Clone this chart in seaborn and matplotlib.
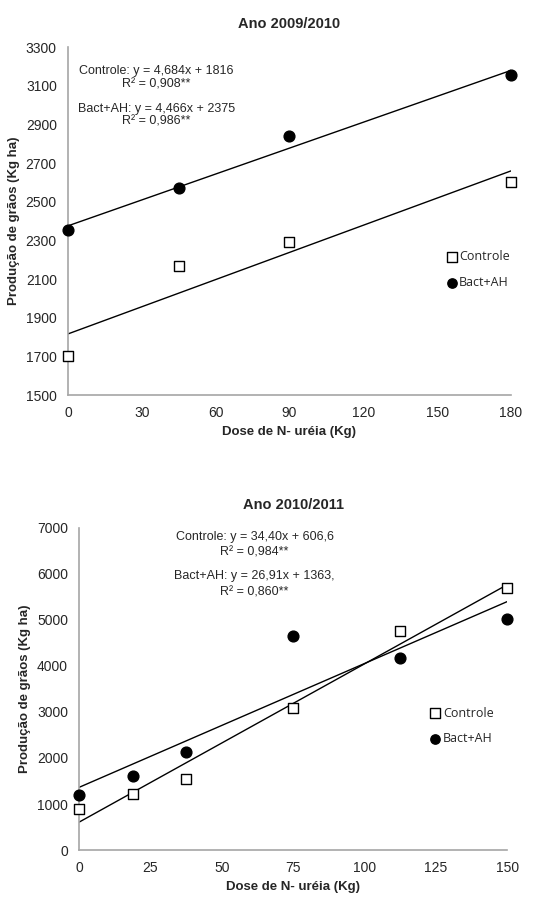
import seaborn as sns
import matplotlib.pyplot as plt
import numpy as np
import pandas as pd

# Ano 2009/2010
dose_09 = [0, 45, 90, 180]
controle_09 = [1700, 2165, 2290, 2600]
bact_09 = [2355, 2570, 2840, 3155]
fit_09 = {"Controle": (4.684, 1816), "Bact+AH": (4.466, 2375)}

# Ano 2010/2011
dose_10 = [0, 18.75, 37.5, 75, 112.5, 150]
controle_10 = [900, 1220, 1550, 3080, 4770, 5700]
bact_10 = [1200, 1600, 2130, 4650, 4170, 5020]
fit_10 = {"Controle": (34.40, 606.6), "Bact+AH": (26.91, 1363)}

sns.set_theme(style="white")
plt.rcParams['font.family'] = ['Liberation Sans', 'DejaVu Sans']

fig = plt.figure(figsize=(5.35, 8.99), dpi=100)
ax1 = fig.add_axes([0.127, 0.5606, 0.828, 0.3871])
ax2 = fig.add_axes([0.148, 0.0545, 0.800, 0.3582])


def panel(ax, dose, ctrl, bact, fit, title, yticks, xticks, texts, legend_anchor):
    df = pd.DataFrame({
        "dose": dose * 2,
        "prod": ctrl + bact,
        "grupo": ["Controle"] * len(dose) + ["Bact+AH"] * len(dose),
    })
    for grupo, marker, face in [("Controle", "s", "white"), ("Bact+AH", "o", "black")]:
        sub = df[df["grupo"] == grupo]
        sns.scatterplot(data=sub, x="dose", y="prod", ax=ax, marker=marker,
                        color=face, edgecolor="black", linewidth=1.0, s=60,
                        label=grupo, zorder=3, clip_on=False)
        # linha de tendencia a partir da equacao
        a, b = fit[grupo]
        xs = np.array([min(dose), max(dose)])
        sns.lineplot(x=xs, y=a * xs + b, ax=ax, color="black", linewidth=1.0,
                     zorder=2)
    ax.set_xlim(xticks[0], xticks[-1])
    ax.set_ylim(yticks[0], yticks[-1])
    ax.set_xticks(xticks)
    ax.set_yticks(yticks)
    ax.tick_params(length=0, labelsize=10, pad=8)
    for s in ["top", "right"]:
        ax.spines[s].set_visible(False)
    for s in ["left", "bottom"]:
        ax.spines[s].set_color("#a6a6a6")
        ax.spines[s].set_linewidth(1.2)
    ax.set_title(title, fontsize=10.5, fontweight="bold", pad=14)
    ax.set_xlabel("Dose de N- uréia (Kg)", fontsize=9.5, fontweight="bold")
    ax.set_ylabel("Produção de grãos (Kg ha)", fontsize=9.5, fontweight="bold")
    for (tx, ty, t) in texts:
        ax.text(tx, ty, t, transform=ax.transAxes, ha="center", va="center",
                fontsize=9)
    leg = ax.legend(loc="center", bbox_to_anchor=legend_anchor, frameon=False,
                    handletextpad=0.1, labelspacing=1.0, handlelength=1.0,
                    prop={"family": "Open Sans", "size": 9})
    for h in leg.legend_handles:
        h.set_sizes([45])


panel(ax1, dose_09, controle_09, bact_09, fit_09, "Ano 2009/2010",
      [1500, 1700, 1900, 2100, 2300, 2500, 2700, 2900, 3100, 3300],
      [0, 30, 60, 90, 120, 150, 180],
      [(0.20, 0.932, "Controle: y = 4,684x + 1816"),
       (0.20, 0.892, "R² = 0,908**"),
       (0.20, 0.822, "Bact+AH: y = 4,466x + 2375"),
       (0.20, 0.786, "R² = 0,986**")],
      (0.925, 0.36))

panel(ax2, dose_10, controle_10, bact_10, fit_10, "Ano 2010/2011",
      [0, 1000, 2000, 3000, 4000, 5000, 6000, 7000],
      [0, 25, 50, 75, 100, 125, 150],
      [(0.41, 0.972, "Controle: y = 34,40x + 606,6"),
       (0.41, 0.925, "R² = 0,984**"),
       (0.41, 0.850, "Bact+AH: y = 26,91x + 1363,"),
       (0.41, 0.800, "R² = 0,860**")],
      (0.893, 0.385))

fig.savefig("out.png", dpi=100)
